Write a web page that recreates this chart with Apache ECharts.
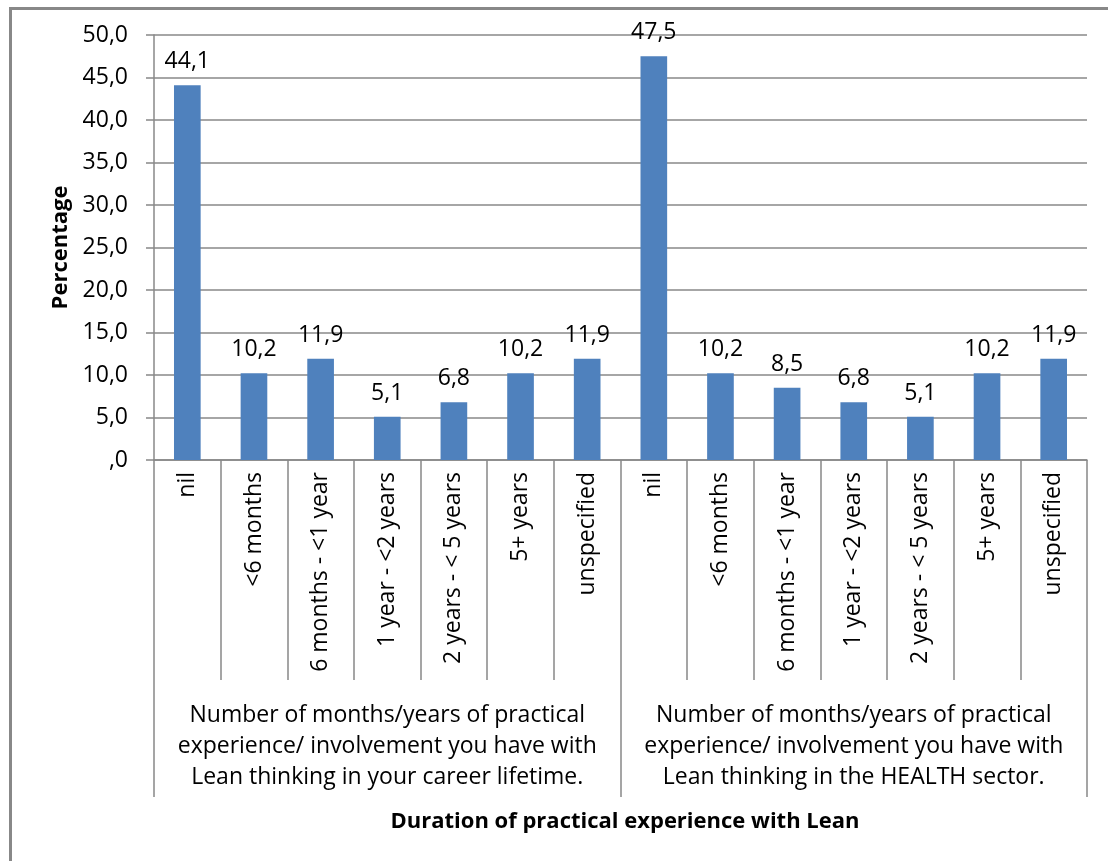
<!DOCTYPE html>
<html>
<head>
<meta charset="utf-8">
<script src="https://cdn.jsdelivr.net/npm/echarts@6/dist/echarts.min.js"></script>
<style>
html,body{margin:0;padding:0;background:#fff;}
#c{width:1108px;height:861px;}
</style>
</head>
<body>
<div id="c"></div>
<script>
const categories = ['nil','<6 months','6 months - <1 year','1 year - <2 years','2 years - < 5 years','5+ years','unspecified',
                    'nil','<6 months','6 months - <1 year','1 year - <2 years','2 years - < 5 years','5+ years','unspecified'];
const values = [44.1, 10.2, 11.9, 5.1, 6.8, 10.2, 11.9, 47.5, 10.2, 8.5, 6.8, 5.1, 10.2, 11.9];
const groups = ['Number of months/years of practical\nexperience/ involvement you have with\nLean thinking in your career lifetime.',
                'Number of months/years of practical\nexperience/ involvement you have with\nLean thinking in the HEALTH sector.'];
const yTicks = {min: 0, max: 50, interval: 5};
const xTitle = 'Duration of practical experience with Lean';
const yTitle = 'Percentage';

const FONT = '"Open Sans", sans-serif';
const FS = 23;
const fmt = v => v === 0 ? ',0' : v.toFixed(1).replace('.', ',');
const axisGray = '#888888';

const chart = echarts.init(document.getElementById('c'), null, {renderer: 'canvas'});
chart.setOption({
  animation: false,
  backgroundColor: '#ffffff',
  textStyle: {fontFamily: FONT},
  title: {
    text: xTitle,
    left: 620, top: 806, textAlign: 'center',
    textStyle: {fontFamily: FONT, fontSize: 22, fontWeight: 'bold', color: '#000'}
  },
  graphic: [{
    type: 'rect', left: 8, top: 6, silent: true,
    shape: {width: 1140, height: 900},
    style: {fill: 'none', stroke: '#888888', lineWidth: 3}
  }],
  grid: {left: 154, right: 21, top: 35, bottom: 401, containLabel: false},
  xAxis: [{
    type: 'category',
    data: categories,
    axisLine: {show: true, lineStyle: {color: axisGray, width: 1.5}},
    axisTick: {show: true, interval: 0, length: 220, lineStyle: {color: axisGray, width: 1.5}},
    axisLabel: {interval: 0, rotate: 90, margin: 12, fontFamily: FONT, fontSize: FS, color: '#000'},
    splitLine: {show: false}
  }, {
    type: 'category',
    position: 'bottom',
    offset: 220,
    data: groups,
    axisLine: {show: false},
    axisTick: {show: true, interval: 0, length: 117, lineStyle: {color: axisGray, width: 1.5}},
    axisLabel: {interval: 0, margin: 20, fontFamily: FONT, fontSize: FS, lineHeight: 31, color: '#000', align: 'center', verticalAlign: 'top'}
  }],
  yAxis: {
    type: 'value',
    min: yTicks.min, max: yTicks.max, interval: yTicks.interval,
    name: yTitle, nameLocation: 'middle', nameRotate: 90, nameGap: 82,
    nameTextStyle: {fontFamily: FONT, fontSize: 22, fontWeight: 'bold', color: '#000'},
    axisLine: {show: true, lineStyle: {color: axisGray, width: 1.5}},
    axisTick: {show: true, inside: false, length: 8, lineStyle: {color: axisGray, width: 1.5}},
    axisLabel: {margin: 26, formatter: fmt, fontFamily: FONT, fontSize: FS, color: '#000'},
    splitLine: {show: true, lineStyle: {color: axisGray, width: 1.5}}
  },
  series: [{
    type: 'bar',
    xAxisIndex: 0,
    data: values,
    barWidth: '40%',
    itemStyle: {color: '#4F81BD'},
    label: {show: true, position: 'top', distance: 12, formatter: p => fmt(p.value),
            fontFamily: FONT, fontSize: FS, color: '#000'}
  }]
});
</script>
</body>
</html>
